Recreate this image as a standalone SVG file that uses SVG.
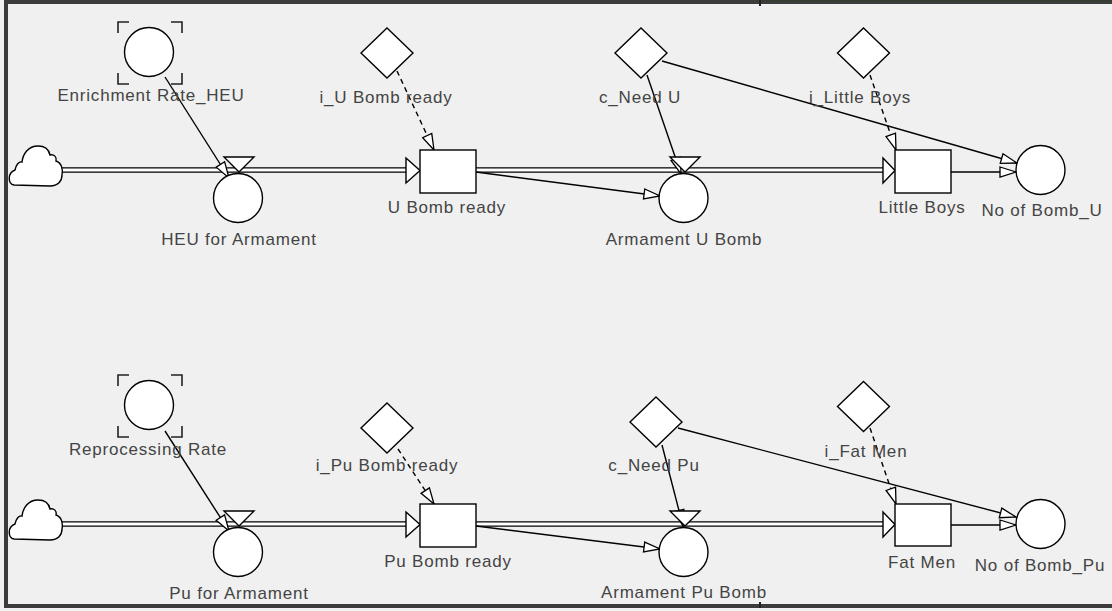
<svg xmlns="http://www.w3.org/2000/svg" width="1112" height="611" viewBox="0 0 1112 611">
  <defs>
    <style>
      .frame { fill: none; stroke: #3c3c3c; stroke-width: 4; }
      .shape { fill: #ffffff; stroke: #000000; stroke-width: 1.4; }
      .pipe-outer { stroke: #000000; stroke-width: 5.6; fill: none; }
      .pipe-inner { stroke: #ffffff; stroke-width: 3; fill: none; }
      .link { stroke: #000000; stroke-width: 1.4; fill: none; marker-end: url(#open-arrow); }
      .info { stroke-dasharray: 5 4; }
      .bracket { fill: none; stroke: #222222; stroke-width: 1.6; }
      text { font-family: "Liberation Sans", Arial, sans-serif; font-size: 17px; letter-spacing: 0.8px; fill: #444444; text-anchor: middle; }
    </style>
    <marker id="open-arrow" markerUnits="userSpaceOnUse" markerWidth="20" markerHeight="14" refX="16" refY="5" orient="auto" overflow="visible">
      <path d="M0,0 L16,5 L0,10 Z" fill="#ffffff" stroke="#000000" stroke-width="1.3"/>
    </marker>
    <path id="cloud" d="M14 185 C8 184 7 173 15 170 C16 165 19 161 22 162 C23 154 28 146 38 146 C46 146 49 150 50 155 C54 154 57 157 56 161 C62 163 63 170 62 175 C62 181 58 186 50 186 Z" fill="#ffffff" stroke="#000000" stroke-width="1.4"/>
    <path id="diamond" d="M0,-25 L26,0 L0,25 L-26,0 Z" fill="#ffffff" stroke="#000000" stroke-width="1.4"/>
  </defs>

  <!-- canvas and frame -->
  <rect x="0" y="0" width="1112" height="611" fill="#f0f0f0"/>
  <path class="frame" d="M1112 2 L6 2 L6 606 L1112 606"/>
  <path d="M760 0 L1112 0" stroke="#363e33" stroke-width="4" fill="none"/>
  <path d="M760 0 V6 M760 602 V608" stroke="#222222" stroke-width="2" fill="none"/>

  <!-- flow pipes -->
  <g id="pipes">
    <path class="pipe-outer" d="M61 170 H407 M476 170 H884 M61 524 H407 M476 524 H884"/>
    <path class="pipe-inner" d="M61 170 H407 M476 170 H884 M61 524 H407 M476 524 H884"/>
    <path class="shape" d="M406 158 L420 170.5 L406 183 Z"/>
    <path class="shape" d="M883 158 L895 170.5 L883 183 Z"/>
    <path class="shape" d="M406 512 L420 524.5 L406 537 Z"/>
    <path class="shape" d="M883 512 L895 524.5 L883 537 Z"/>
  </g>

  <!-- connectors -->
  <g id="connectors">
    <line class="link" x1="165" y1="77" x2="229" y2="178"/>
    <line class="link info" x1="397" y1="71" x2="434" y2="150"/>
    <line class="link" x1="476" y1="172" x2="660" y2="196"/>
    <line class="link" x1="647" y1="75" x2="681" y2="174"/>
    <line class="link" x1="662" y1="61" x2="1017" y2="163"/>
    <line class="link info" x1="870" y1="75" x2="896" y2="150"/>
    <line class="link" x1="951" y1="172" x2="1016" y2="172"/>

    <line class="link" x1="165" y1="431" x2="229" y2="531"/>
    <line class="link info" x1="398" y1="449" x2="434" y2="504"/>
    <line class="link" x1="476" y1="526" x2="660" y2="549"/>
    <line class="link" x1="662" y1="445" x2="683" y2="526"/>
    <line class="link" x1="678" y1="428" x2="1016" y2="517"/>
    <line class="link info" x1="870" y1="428" x2="896" y2="504"/>
    <line class="link" x1="951" y1="525" x2="1016" y2="525"/>
  </g>

  <!-- uranium chain -->
  <g id="cloud-heu"><use href="#cloud"/></g>

  <g id="enrichment-rate-heu">
    <path class="bracket" d="M118 33 V22 H129 M171 22 H182 V33 M118 73 V84 H129 M171 84 H182 V73"/>
    <circle class="shape" cx="149" cy="52" r="24.5"/>
    <text x="151" y="101">Enrichment Rate_HEU</text>
  </g>

  <g id="heu-for-armament">
    <circle class="shape" cx="238" cy="198" r="24.5"/>
    <path class="shape" d="M224 157 L254 157 L239 172 Z"/>
    <text x="239" y="245">HEU for Armament</text>
  </g>

  <g id="i-u-bomb-ready">
    <use href="#diamond" x="387" y="53"/>
    <text x="386" y="103">i_U Bomb ready</text>
  </g>

  <g id="u-bomb-ready">
    <rect class="shape" x="420" y="150" width="56" height="43"/>
    <text x="447" y="213">U Bomb ready</text>
  </g>

  <g id="c-need-u">
    <use href="#diamond" x="641" y="53"/>
    <text x="640" y="103">c_Need U</text>
  </g>

  <g id="armament-u-bomb">
    <circle class="shape" cx="683.5" cy="198" r="24.5"/>
    <path class="shape" d="M670 157 L700 157 L685 172 Z"/>
    <text x="684" y="245">Armament U Bomb</text>
  </g>

  <g id="i-little-boys">
    <use href="#diamond" x="863.5" y="53"/>
    <text x="860" y="103">i_Little Boys</text>
  </g>

  <g id="little-boys">
    <rect class="shape" x="895" y="150" width="56" height="43"/>
    <text x="922" y="213">Little Boys</text>
  </g>

  <g id="no-of-bomb-u">
    <circle class="shape" cx="1040.5" cy="170" r="24.5"/>
    <text x="1042" y="216">No of Bomb_U</text>
  </g>

  <!-- plutonium chain -->
  <g id="cloud-pu"><use href="#cloud" y="354"/></g>

  <g id="reprocessing-rate">
    <path class="bracket" d="M118 386 V375 H129 M171 375 H182 V386 M118 426 V437 H129 M171 437 H182 V426"/>
    <circle class="shape" cx="149" cy="405" r="24.5"/>
    <text x="148" y="455">Reprocessing Rate</text>
  </g>

  <g id="pu-for-armament">
    <circle class="shape" cx="238" cy="552" r="24.5"/>
    <path class="shape" d="M224 511 L254 511 L239 526 Z"/>
    <text x="239" y="599">Pu for Armament</text>
  </g>

  <g id="i-pu-bomb-ready">
    <use href="#diamond" x="387" y="428"/>
    <text x="387" y="471">i_Pu Bomb ready</text>
  </g>

  <g id="pu-bomb-ready">
    <rect class="shape" x="420" y="504" width="56" height="43"/>
    <text x="448" y="567">Pu Bomb ready</text>
  </g>

  <g id="c-need-pu">
    <use href="#diamond" x="656" y="422"/>
    <text x="654" y="471">c_Need Pu</text>
  </g>

  <g id="armament-pu-bomb">
    <circle class="shape" cx="683.5" cy="552" r="24.5"/>
    <path class="shape" d="M670 511 L700 511 L685 526 Z"/>
    <text x="684" y="598">Armament Pu Bomb</text>
  </g>

  <g id="i-fat-men">
    <use href="#diamond" x="863.5" y="406.5"/>
    <text x="866" y="457">i_Fat Men</text>
  </g>

  <g id="fat-men">
    <rect class="shape" x="895" y="504" width="56" height="42"/>
    <text x="922" y="568">Fat Men</text>
  </g>

  <g id="no-of-bomb-pu">
    <circle class="shape" cx="1040.5" cy="524" r="24.5"/>
    <text x="1040" y="571">No of Bomb_Pu</text>
  </g>
</svg>
